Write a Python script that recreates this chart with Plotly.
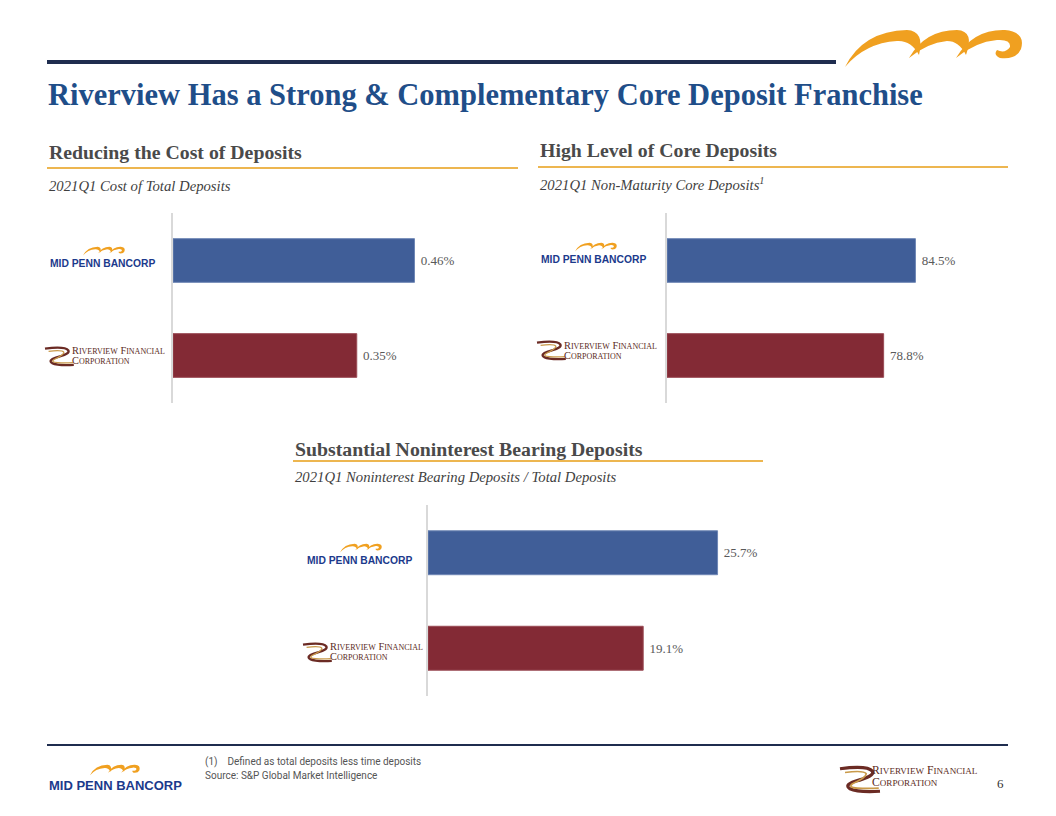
import plotly.graph_objects as go

# ---------------- data ----------------
banks = ["Mid Penn Bancorp", "Riverview Financial"]
bank_colors = ["#405E98", "#832A35"]
cost_of_deposits = [0.46, 0.35]          # 2021Q1 cost of total deposits (%)
core_deposits = [84.5, 78.8]             # 2021Q1 non-maturity core deposits (%)
nonint_deposits = [25.7, 19.1]           # 2021Q1 noninterest bearing / total deposits (%)

title_text = "Riverview Has a Strong & Complementary Core Deposit Franchise"
panel_titles = ["Reducing the Cost of Deposits", "High Level of Core Deposits",
                "Substantial Noninterest Bearing Deposits"]
panel_subtitles = ["2021Q1 Cost of Total Deposits",
                   "2021Q1 Non-Maturity Core Deposits<sup>1</sup>",
                   "2021Q1 Noninterest Bearing Deposits / Total Deposits"]
footnotes = ["(1)\u00a0\u00a0\u00a0\u00a0Defined as total deposits less time deposits",
             "Source: S&P Global Market Intelligence"]
page_number = "6"

# ---------------- helpers ----------------
W, H = 1056, 816


def X(px):
    return px / W


def Y(py):
    return 1 - py / H


SERIF = "Liberation Serif, Times New Roman, serif"
SANS = "Liberation Sans, Arial, sans-serif"
NARROW = "Liberation Sans Narrow, Roboto, Liberation Sans, sans-serif"
NAVY = "#1F2D4F"
ORANGE_LINE = "#EDB650"
GRAY = "#4A4A4A"
MARK = "#F0A020"

fig = go.Figure()

# ---------------- bar charts ----------------
cat_order = banks[::-1]
panels = [
    dict(vals=cost_of_deposits, dec=2, xr=[0, 0.60], xd=(173, 488), yd=(213, 403)),
    dict(vals=core_deposits, dec=1, xr=[40, 100], xd=(667, 1002), yd=(213, 403)),
    dict(vals=nonint_deposits, dec=1, xr=[0, 30], xd=(428, 766), yd=(505, 696)),
]
for i, p in enumerate(panels):
    sfx = "" if i == 0 else str(i + 1)
    base = p["xr"][0]
    fig.add_trace(go.Bar(
        x=[v - base for v in p["vals"]], y=banks, base=base, orientation="h",
        marker=dict(color=bank_colors, line=dict(color=["#6F87B5", "#9A4B55"], width=1)),
        width=0.46,
        text=["\u00a0" + f"{v:.{p['dec']}f}%" for v in p["vals"]],
        textposition="outside", cliponaxis=False,
        textfont=dict(family=SERIF, size=13, color="#595959"),
        xaxis="x" + sfx, yaxis="y" + sfx, showlegend=False, hoverinfo="skip",
    ))
    fig.update_layout(**{
        "xaxis" + sfx: dict(domain=[X(p["xd"][0]), X(p["xd"][1])], range=p["xr"],
                            showgrid=False, zeroline=False, showticklabels=False,
                            ticks="", showline=False, anchor="y" + sfx),
        "yaxis" + sfx: dict(domain=[Y(p["yd"][1]), Y(p["yd"][0])], type="category",
                            categoryorder="array", categoryarray=cat_order,
                            range=[-0.5, 1.5], showgrid=False, zeroline=False,
                            showticklabels=False, ticks="", showline=True,
                            linecolor="#D9D9D9", linewidth=1.5, anchor="x" + sfx),
    })

shapes = []
annotations = []


def hline(x0, x1, y, color, width):
    shapes.append(dict(type="line", xref="paper", yref="paper",
                       x0=X(x0), x1=X(x1), y0=Y(y), y1=Y(y),
                       line=dict(color=color, width=width)))


def text(x, y, s, size, color, family=SERIF, bold=False, italic=False,
         xanchor="left", yanchor="middle"):
    if bold:
        s = "<b>" + s + "</b>"
    if italic:
        s = "<i>" + s + "</i>"
    annotations.append(dict(x=X(x), y=Y(y), xref="paper", yref="paper", text=s,
                            showarrow=False, xanchor=xanchor, yanchor=yanchor,
                            font=dict(family=family, size=size, color=color)))


def path_from(segments, x0, y0, s, close=True):
    out = []
    for cmd, pts in segments:
        coords = " ".join(f"{X(x0 + u * s):.5f},{Y(y0 + v * s):.5f}" for u, v in pts)
        out.append(f"{cmd} {coords}")
    return " ".join(out) + (" Z" if close else "")


HUMPS = [
    [("M", [(0, 40)]), ("Q", [(18, 4), (62, 3)]), ("Q", [(80, 4), (74, 28)]),
     ("Q", [(66, 13), (52, 14)]), ("Q", [(20, 16), (0, 40)])],
    [("M", [(64, 31)]), ("Q", [(80, 3), (112, 3)]), ("Q", [(130, 4), (121, 28)]),
     ("Q", [(114, 14), (102, 14)]), ("Q", [(82, 16), (64, 31)])],
    [("M", [(111, 31)]), ("Q", [(128, 2), (160, 3)]), ("Q", [(181, 5), (176, 22)]),
     ("Q", [(171, 33), (155, 31)]), ("Q", [(148, 28), (152, 23)]),
     ("Q", [(160, 27), (165, 20)]), ("Q", [(166, 12), (152, 13)]),
     ("Q", [(130, 15), (111, 31)])],
]


def mark(x0, y0, width):
    s = width / 178.0
    for h in HUMPS:
        shapes.append(dict(type="path", xref="paper", yref="paper",
                           path=path_from(h, x0, y0, s), fillcolor=MARK,
                           line=dict(width=0)))


def midpenn_logo(x0, y_text, mark_x, mark_y, mark_w, size):
    mark(mark_x, mark_y, mark_w)
    text(x0, y_text, "MID PENN BANCORP", size, "#1B3A8C", family=SANS, bold=True)


SWOOSH_BROWN = [("M", [(0, 3)]), ("Q", [(22, 0), (26, 5)]), ("Q", [(28, 9), (12, 13)]),
                ("Q", [(3, 16), (8, 19)]), ("Q", [(14, 22), (32, 21)])]
SWOOSH_GOLD = [("M", [(4, 6)]), ("Q", [(19, 4), (21, 7)]), ("Q", [(21, 10), (10, 15)]),
               ("Q", [(6, 18), (14, 18.5)]), ("Q", [(22, 19), (31, 18.5)])]


def riverview_logo(x0, y0, scale, tx, ty1, ty2, tscale):
    shapes.append(dict(type="path", xref="paper", yref="paper",
                       path=path_from(SWOOSH_BROWN, x0, y0, scale, close=False),
                       line=dict(color="#6B2B24", width=2.6 * scale)))
    shapes.append(dict(type="path", xref="paper", yref="paper",
                       path=path_from(SWOOSH_GOLD, x0, y0, scale, close=False),
                       line=dict(color="#C99A4A", width=1.4 * scale)))
    big = 9.0 * tscale
    small = 7.0 * tscale
    sm = lambda t: f"<span style='font-size:{small:.1f}px'>{t}</span>"
    text(tx, ty1, "R" + sm("IVERVIEW") + " F" + sm("INANCIAL"), big, "#5A2A22")
    text(tx, ty2, "C" + sm("ORPORATION"), big, "#5A2A22")


# ---------------- slide chrome ----------------
hline(47, 836, 62, NAVY, 4)
mark(845, 27, 178)
text(46, 95, title_text, 30.5, "#1F4E89", bold=True)

# panel headers
hline(47, 518, 168, ORANGE_LINE, 2)
hline(538, 1008, 167, ORANGE_LINE, 2)
hline(293, 763, 461, ORANGE_LINE, 2)
text(47, 152, panel_titles[0], 19.8, GRAY, bold=True)
text(538, 150, panel_titles[1], 19.8, GRAY, bold=True)
text(293, 449, panel_titles[2], 19.8, GRAY, bold=True)
text(47, 186, panel_subtitles[0], 14.7, "#3F3F3F", italic=True)
text(538, 184, panel_subtitles[1], 14.7, "#3F3F3F", italic=True)
text(293, 477, panel_subtitles[2], 14.7, "#3F3F3F", italic=True)

# category logos
midpenn_logo(48, 264, 83, 246, 42, 10.3)
midpenn_logo(539, 259, 575, 242, 42, 10.3)
midpenn_logo(305, 560, 340, 543, 42, 10.3)
riverview_logo(45, 346, 0.9, 70, 350.5, 360, 1.15)
riverview_logo(537, 340, 0.9, 562, 345.5, 355, 1.15)
riverview_logo(303, 642, 0.9, 328, 646.5, 656, 1.15)

# footer
hline(47, 1008, 745, NAVY, 2)
mark(90, 764, 50)
text(47, 785, "MID PENN BANCORP", 13, "#1B3A8C", family=SANS, bold=True)
text(203, 762, footnotes[0], 10, "#555555", family=NARROW)
text(203, 775, footnotes[1], 10, "#555555", family=NARROW)
riverview_logo(840, 765, 1.25, 870, 770, 782, 1.3)
text(1006, 783, page_number, 13, "#333333", xanchor="right")

fig.update_layout(
    width=W, height=H, margin=dict(l=0, r=0, t=0, b=0),
    paper_bgcolor="white", plot_bgcolor="white",
    shapes=shapes, annotations=annotations, showlegend=False,
)

fig.write_html("out.html", config={"displayModeBar": False},
               post_script="document.body.style.margin='0';document.body.style.padding='0';")
